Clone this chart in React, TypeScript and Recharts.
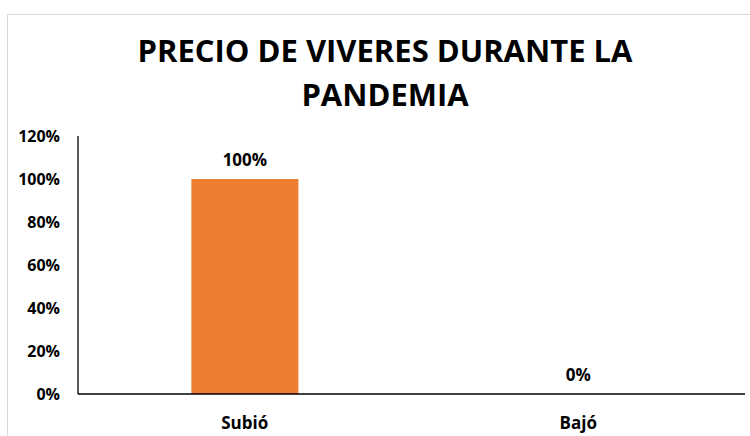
import React from "react";
import { BarChart, Bar, XAxis, YAxis, LabelList } from "recharts";

const categories = ["Subió", "Bajó"];
const values = [1.0, 0.0];
const yTicks = [0, 0.2, 0.4, 0.6, 0.8, 1.0, 1.2];
const titleLines = ["PRECIO DE VIVERES DURANTE LA", "PANDEMIA"];

const data = categories.map((c, i) => ({ name: c, value: values[i] }));

const FONT = "'Open Sans', sans-serif";
const pct = (v: number) => `${Math.round(v * 100)}%`;

export default function App() {
  return (
    <div
      style={{
        position: "absolute",
        left: 0,
        top: 0,
        width: 750,
        height: 436,
        overflow: "hidden",
        background: "#fff",
        fontFamily: FONT,
      }}
    >
      <div
        style={{
          position: "absolute",
          left: 7,
          top: 14,
          width: 800,
          height: 500,
          border: "1px solid #d9d9d9",
          boxSizing: "border-box",
        }}
      />
      <div
        style={{
          position: "absolute",
          left: 0,
          top: 28,
          width: 770,
          textAlign: "center",
          fontWeight: 700,
          fontSize: 31,
          lineHeight: "44px",
          color: "#000",
        }}
      >
        {titleLines.map((l, i) => (
          <div key={i}>{l}</div>
        ))}
      </div>
      <div style={{ position: "absolute", left: 0, top: 0 }}>
        <BarChart
          width={750}
          height={436}
          data={data}
          margin={{ top: 136, right: 5, left: 0, bottom: 0 }}
          barCategoryGap="34%"
        >
          <XAxis
            dataKey="name"
            height={42}
            tickLine={false}
            tickSize={0}
            tickMargin={23}
            axisLine={{ stroke: "#000", strokeWidth: 1.3 }}
            tick={{ fill: "#000", fontSize: 17, fontWeight: 700, fontFamily: FONT }}
          />
          <YAxis
            width={78}
            domain={[0, 1.2]}
            ticks={yTicks}
            tickFormatter={pct}
            tickLine={false}
            tickSize={0}
            tickMargin={18}
            axisLine={{ stroke: "#000", strokeWidth: 1.3 }}
            tick={{ fill: "#000", fontSize: 16, fontWeight: 700, fontFamily: FONT }}
          />
          <Bar dataKey="value" fill="#ED7D31" isAnimationActive={false} minPointSize={0.01}>
            <LabelList
              dataKey="value"
              position="top"
              offset={13}
              formatter={pct}
              style={{ fill: "#000", fontSize: 17, fontWeight: 700, fontFamily: FONT }}
            />
          </Bar>
        </BarChart>
      </div>
    </div>
  );
}
